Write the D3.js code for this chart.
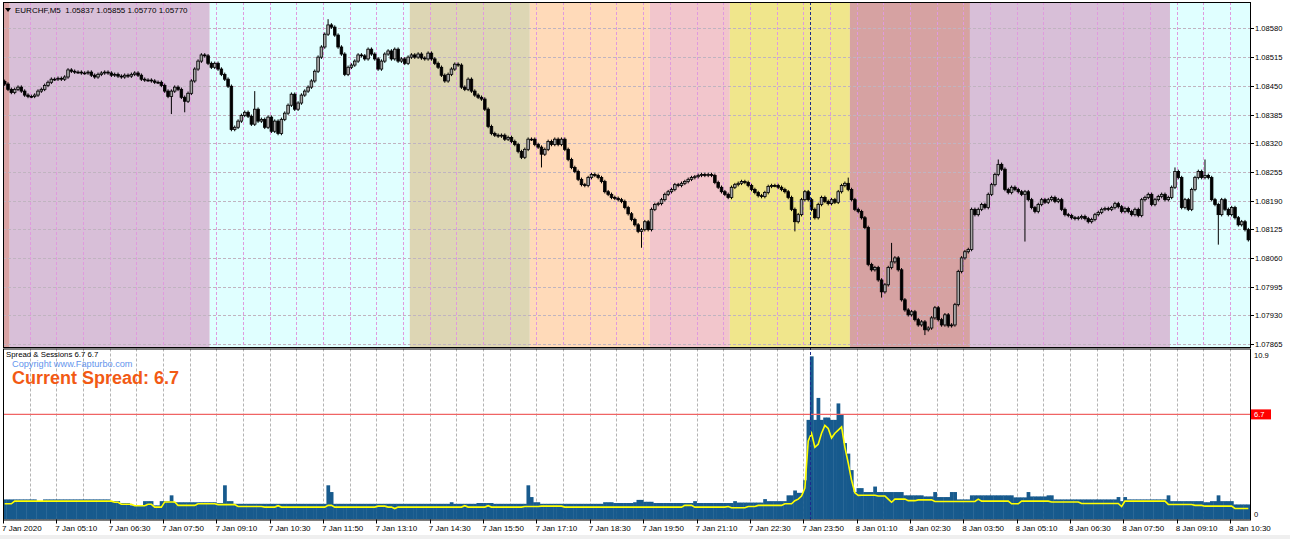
<!DOCTYPE html>
<html>
<head>
<meta charset="utf-8">
<script src="https://cdn.jsdelivr.net/npm/d3@7"></script>
<style>
  html, body { margin: 0; padding: 0; background: #fff; }
  svg { display: block; font-family: Tahoma, "Liberation Sans", Arial, sans-serif; }
</style>
</head>
<body>
<div id="chart"></div>
<script>
// Datos (precios en puntos sobre 1.07000)
const firstOpen = 1460;
const closePts = [
  1454,1442,1435,1442,1447,1438,1429,1426,1426,1429,1438,1442,1451,1458,1465,1465,1467,1465,1470,1486,
  1483,1481,1481,1479,1479,1481,1474,1470,1476,1479,1481,1479,1474,1476,1472,1470,1474,1472,1476,1479,
  1474,1465,1463,1463,1461,1458,1458,1451,1438,1426,1438,1447,1442,1424,1415,1433,1461,1488,1506,1520,
  1518,1501,
  1492,1501,1488,1476,1465,1449,1351,1356,1370,1383,1390,1381,1363,1397,1370,1374,1356,1379,1347,1370,
  1342,1374,1388,1406,1431,1397,1411,1429,1438,1447,1461,1483,1515,1538,1567,1588,1583,1565,1538,1522,
  1476,1492,1497,1506,1520,1518,1511,1533,1522,1511,1488,1506,1522,1529,1511,1533,1506,1511,1501,1515,
  1520,1515,1522,1513,1511,1524,1511,1501,1492,1474,1461,1476,1488,1499,1497,1447,1442,1465,1438,1429,
  1424,1420,1397,1358,1342,1338,1336,1338,1329,1333,1324,1317,1301,1288,1306,1329,
  1329,1317,1311,1295,1306,1324,1317,1329,1317,1329,1306,1283,1265,1256,1238,1226,1224,1242,1249,1247,
  1242,1233,1210,1204,1197,1195,1192,1188,1174,1160,1147,1135,1120,1124,1142,1124,
  1170,1181,1183,1192,1204,1210,1215,1226,1224,1229,1233,1238,1242,1244,1247,1249,1247,1249,1247,1231,
  1220,1210,1204,1197,
  1220,1226,1229,1233,1231,1224,1215,1208,1201,1199,1208,1222,1224,1224,1220,1215,1210,1197,1170,1142,
  1158,1192,1210,1192,1170,1151,1181,1197,1188,1183,1192,1186,1210,1224,1229,1215,
  1192,1170,1165,1151,1129,1045,1033,1038,1010,983,999,1038,1051,1060,1033,965,942,931,938,920,
  908,915,897,901,924,947,920,908,931,906,908,954,1029,1060,1074,1079,
  1170,1158,1170,1181,1174,1204,1226,1249,1272,1261,1215,1208,1220,1215,1210,1204,1210,1192,1174,1165,
  1181,1192,1186,1192,1197,1188,1192,1170,1158,1156,1151,1149,1151,1154,1149,1142,1147,1158,1163,1170,
  1172,1170,1174,1183,1176,1165,1172,1165,1158,1170,1156,1192,1197,1204,1181,1192,1199,1204,1192,1197,
  1220,1256,1242,1174,1192,1170,1215,1242,1256,1242,1247,1242,1192,1181,1158,1192,1170,1158,1174,1151,
  1135,1142,1124,1101
];

// [barra, máximo, mínimo] mechas largas
const longWicks = [
  [50, null, 1386], [54, null, 1390], [75, 1438, null], [97, 1601, null],
  [161, null, 1265], [191, null, 1083], [237, null, 1120], [253, 1242, null],
  [263, null, 970], [266, 1094, null], [276, null, 885], [298, 1283, null],
  [306, null, 1097], [351, 1265, null], [360, 1283, null], [364, null, 1090]
];

// Spread: [valor, nº de barras]
const spreadRuns = [
  [1.28,10],[1.17,2],[1.28,20],[1.17,3],[1.05,3],[0.9,4],[1.17,3],[0.9,2],[1.17,3],[1.54,1],
  [1.1,13],[1.05,2],[2.18,1],[1.17,2],[1.0,28],[2.18,1],[1.75,1],[1.0,35],[1.1,1],[1.0,7],
  [1.05,5],[1.0,10],[2.18,1],[1.43,1],[1.1,2],[1.0,19],[1.1,3],[1.05,6],[1.1,1],[1.25,2],
  [1.13,3],[1.05,12],[1.17,1],[1.05,11],[1.17,1],[1.08,8],[1.3,1],[1.17,6],[1.54,2],[1.85,1],
  [1.7,2],[2.5,1],[6.35,1],[10.4,1],[6.35,1],[7.75,1],[6.35,1],[6.5,2],[6.35,2],[7.4,1],
  [6.7,1],[4.87,1],[4.2,1],[3.15,1],[1.75,1],[2.0,2],[1.75,3],[2.1,1],[1.75,8],[1.54,6],
  [1.47,3],[1.75,1],[1.43,4],[1.75,2],[1.28,4],[1.54,13],[1.41,4],[1.75,1],[1.47,5],[1.54,2],
  [1.28,19],[1.43,1],[1.17,1],[1.43,1],[1.28,12],[1.54,1],[1.17,10],[1.1,2],[1.17,2],[1.54,1],
  [1.17,4],[0.96,5]
];

// Promedio del spread (línea amarilla): [valor, nº de barras]
const avgRuns = [
  [1.0,3],[1.17,30],[1.1,2],[0.97,4],[0.88,4],[0.97,2],[0.79,3],[1.12,4],[0.9,6],[1.0,6],
  [0.95,6],[0.83,8],[0.79,4],[0.88,1],[0.79,14],[0.9,2],[0.79,13],[0.85,3],[0.79,2],[0.7,1],
  [0.79,20],[0.88,1],[0.79,6],[0.88,1],[0.79,10],[0.83,5],[0.85,7],[0.79,36],[0.9,3],[0.79,10],
  [0.83,1],[0.75,5],[0.83,3],[0.9,8],[1.0,2],[1.0,1],[1.2,1],[1.3,1],[1.5,1],[2.0,1],
  [5.0,1],[5.5,1],[4.6,1],[4.8,1],[5.5,1],[6.0,1],[5.8,1],[5.2,1],[5.5,1],[5.7,1],
  [5.9,1],[4.6,1],[3.6,1],[2.5,1],[1.7,1],[1.54,1],[1.55,5],[1.5,3],[1.3,1],[1.1,1],
  [1.3,4],[1.2,3],[1.25,5],[1.15,13],[1.3,1],[1.17,9],[1.0,3],[1.17,9],[1.12,9],[1.02,12],
  [0.83,1],[1.17,13],[0.96,8],[0.9,3],[0.85,9],[0.7,5]
];

// Sesiones: [barra inicio, barra fin, color]
const sessions = [
  [0, 2, "#d9a3a3"], [2, 62, "#d8bfd8"], [62, 122, "#e0ffff"], [122, 158, "#ddd6b4"],
  [158, 194, "#ffdab9"], [194, 218, "#f2c6cc"], [218, 254, "#f0e68c"], [254, 290, "#d6a2a2"],
  [290, 350, "#d8bfd8"], [350, 374, "#e0ffff"]
];

const timeLabels = [
  "7 Jan 2020","7 Jan 05:10","7 Jan 06:30","7 Jan 07:50","7 Jan 09:10","7 Jan 10:30",
  "7 Jan 11:50","7 Jan 13:10","7 Jan 14:30","7 Jan 15:50","7 Jan 17:10","7 Jan 18:30",
  "7 Jan 19:50","7 Jan 21:10","7 Jan 22:30","7 Jan 23:50","8 Jan 01:10","8 Jan 02:30",
  "8 Jan 03:50","8 Jan 05:10","8 Jan 06:30","8 Jan 07:50","8 Jan 09:10","8 Jan 10:30"
];
const priceTicks = [1.07865,1.07930,1.07995,1.08060,1.08125,1.08190,1.08255,1.08320,1.08385,1.08450,1.08515,1.08580];
const spreadLabels = [10.9, 0];
const currentSpread = 6.7;
const cursorBar = 242;

// Constantes
const WIDTH = 1290, HEIGHT = 539;
const left = 3, right = 1250;
const top1 = 2, bot1 = 347;
const top2 = 348.5, bot2 = 519.5;
const N = closePts.length;
const wickPad = 4;

const svg = d3.select("#chart").append("svg")
  .attr("width", WIDTH).attr("height", HEIGHT);

svg.append("rect").attr("width", WIDTH).attr("height", HEIGHT).attr("fill", "#fff");

// Escalas
const x = d3.scaleBand().domain(d3.range(N)).range([left, right]).padding(0);
const step = x.step();
const xc = i => x(i) + step / 2;
const xs = i => left + i * step;
const y = d3.scaleLinear().domain([1.07858, 1.08640]).range([bot1, top1]);
const yS = d3.scaleLinear().domain([0, 10.9]).range([bot2, top2]);
const px = p => 1.07 + p / 100000;

const defs = svg.append("defs");
defs.append("clipPath").attr("id", "clip1").append("rect")
  .attr("x", left).attr("y", top1).attr("width", right - left).attr("height", bot1 - top1);
defs.append("clipPath").attr("id", "clip2").append("rect")
  .attr("x", left).attr("y", top2).attr("width", right - left).attr("height", bot2 - top2);

// Panel de precios
const g1 = svg.append("g").attr("clip-path", "url(#clip1)");

g1.selectAll("rect.session").data(sessions).join("rect")
  .attr("class", "session")
  .attr("x", d => xs(d[0])).attr("width", d => xs(d[1]) - xs(d[0]))
  .attr("y", top1).attr("height", bot1 - top1)
  .attr("fill", d => d[2]);

g1.selectAll("line.hgrid").data(priceTicks).join("line")
  .attr("class", "hgrid")
  .attr("x1", left).attr("x2", right)
  .attr("y1", d => Math.round(y(d)) + 0.5).attr("y2", d => Math.round(y(d)) + 0.5)
  .attr("stroke", "#c0b4c0").attr("stroke-dasharray", "3,2").attr("stroke-width", 1);

const vgrid = d3.range(8, N, 8);
g1.selectAll("line.vgrid").data(vgrid).join("line")
  .attr("class", "vgrid")
  .attr("x1", d => Math.round(xs(d)) + 0.5).attr("x2", d => Math.round(xs(d)) + 0.5)
  .attr("y1", top1).attr("y2", bot1)
  .attr("stroke", "#e09ade").attr("stroke-dasharray", "3,2").attr("stroke-width", 1);

// Velas
const wickMap = new Map(longWicks.map(d => [d[0], d]));
const candles = closePts.map((c, i) => {
  const o = i === 0 ? firstOpen : closePts[i - 1];
  let hi = Math.max(o, c) + wickPad, lo = Math.min(o, c) - wickPad;
  const w = wickMap.get(i);
  if (w) { if (w[1] != null) hi = w[1]; if (w[2] != null) lo = w[2]; }
  return { i, o, c, hi, lo };
});

const cg = g1.append("g");
cg.selectAll("line.wick").data(candles).join("line")
  .attr("class", "wick")
  .attr("x1", d => xc(d.i)).attr("x2", d => xc(d.i))
  .attr("y1", d => y(px(d.hi))).attr("y2", d => y(px(d.lo)))
  .attr("stroke", "#000").attr("stroke-width", 1);

cg.selectAll("rect.body").data(candles).join("rect")
  .attr("class", "body")
  .attr("x", d => xc(d.i) - 1.3).attr("width", 2.6)
  .attr("y", d => y(px(Math.max(d.o, d.c))))
  .attr("height", d => Math.max(0.8, Math.abs(y(px(d.o)) - y(px(d.c)))))
  .attr("fill", d => d.c > d.o ? "#a8a8a8" : "#000")
  .attr("stroke", "#000").attr("stroke-width", 0.8);

// Panel del spread
const spread = spreadRuns.flatMap(([v, n]) => Array(n).fill(v));
const avg = avgRuns.flatMap(([v, n]) => Array(n).fill(v));

const g2 = svg.append("g").attr("clip-path", "url(#clip2)");
g2.append("rect").attr("x", left).attr("y", top2).attr("width", right - left)
  .attr("height", bot2 - top2).attr("fill", "#fff");

g2.selectAll("line.vgrid2").data(vgrid).join("line")
  .attr("class", "vgrid2")
  .attr("x1", d => Math.round(xs(d)) + 0.5).attr("x2", d => Math.round(xs(d)) + 0.5)
  .attr("y1", top2).attr("y2", bot2)
  .attr("stroke", "#b4b4b4").attr("stroke-dasharray", "3,2").attr("stroke-width", 1);

g2.selectAll("rect.sp").data(spread).join("rect")
  .attr("class", "sp")
  .attr("x", (d, i) => x(i)).attr("width", step + 0.4)
  .attr("y", d => yS(d)).attr("height", d => yS(0) - yS(d))
  .attr("fill", "#175a8d");

g2.append("path").datum(avg)
  .attr("d", d3.line().x((d, i) => xc(i)).y(d => yS(d)))
  .attr("fill", "none").attr("stroke", "#ffff00").attr("stroke-width", 1.6);

g2.append("line")
  .attr("x1", left).attr("x2", right)
  .attr("y1", yS(currentSpread)).attr("y2", yS(currentSpread))
  .attr("stroke", "#f06464").attr("stroke-width", 1.3);

// Cursor vertical
svg.append("line")
  .attr("x1", Math.round(xs(cursorBar)) + 0.5).attr("x2", Math.round(xs(cursorBar)) + 0.5)
  .attr("y1", top1).attr("y2", bot2)
  .attr("stroke", "#1c2a8c").attr("stroke-dasharray", "3,2").attr("stroke-width", 1);

// Bordes
[[top1, bot1], [top2, bot2]].forEach(([t, b]) => {
  svg.append("rect")
    .attr("x", left + 0.5).attr("y", t + 0.5)
    .attr("width", right - left).attr("height", b - t)
    .attr("fill", "none").attr("stroke", "#000").attr("stroke-width", 1);
});

// Eje de precios
const ax = svg.append("g");
ax.selectAll("line").data(priceTicks).join("line")
  .attr("x1", right).attr("x2", right + 4)
  .attr("y1", d => Math.round(y(d)) + 0.5).attr("y2", d => Math.round(y(d)) + 0.5)
  .attr("stroke", "#000");
ax.selectAll("text").data(priceTicks).join("text")
  .attr("x", right + 5).attr("y", d => y(d) + 3)
  .attr("font-size", "7.6px").attr("fill", "#000")
  .text(d => d3.format(".5f")(d));

// Eje del spread
svg.selectAll("text.sl").data(spreadLabels).join("text")
  .attr("class", "sl")
  .attr("x", right + 4)
  .attr("y", d => d === 0 ? 517 : 358)
  .attr("font-size", "7.6px").attr("fill", "#000")
  .text(d => d);

svg.append("rect")
  .attr("x", right + 1).attr("y", yS(currentSpread) - 5)
  .attr("width", 20).attr("height", 10).attr("fill", "#ff0000");
svg.append("text")
  .attr("x", right + 4).attr("y", yS(currentSpread) + 3)
  .attr("font-size", "7.6px").attr("fill", "#fff")
  .text(currentSpread);

// Eje de tiempo
const tIdx = timeLabels.map((d, k) => k * 16);
svg.selectAll("line.tt").data(tIdx).join("line")
  .attr("class", "tt")
  .attr("x1", d => Math.round(xs(d)) + 0.5).attr("x2", d => Math.round(xs(d)) + 0.5)
  .attr("y1", bot2).attr("y2", bot2 + 4)
  .attr("stroke", "#000");
svg.selectAll("text.tl").data(timeLabels).join("text")
  .attr("class", "tl")
  .attr("x", (d, k) => xs(tIdx[k]) - 1).attr("y", 531)
  .attr("font-size", "8px").attr("fill", "#000")
  .text(d => d);

svg.append("rect").attr("x", 0).attr("y", 535).attr("width", WIDTH).attr("height", 4)
  .attr("fill", "#efefef");

// Textos
svg.append("path")
  .attr("d", "M5,8 L11,8 L8,12 Z").attr("fill", "#000");
svg.append("text")
  .attr("x", 15).attr("y", 13).attr("font-size", "8px").attr("fill", "#000")
  .attr("xml:space", "preserve")
  .text("EURCHF,M5  1.05837 1.05855 1.05770 1.05770");

svg.append("text")
  .attr("x", 6).attr("y", 357).attr("font-size", "7.8px").attr("fill", "#000")
  .text("Spread & Sessions 6.7 6.7");
svg.append("text")
  .attr("x", 12).attr("y", 367).attr("font-size", "9.2px").attr("fill", "#6495ed")
  .text("Copyright www.Fapturbo.com");
svg.append("text")
  .attr("x", 12).attr("y", 384).attr("font-size", "18px").attr("font-weight", "bold")
  .attr("font-family", "Arial, 'Liberation Sans', sans-serif")
  .attr("fill", "#f25a14")
  .text("Current Spread: " + currentSpread);
</script>
</body>
</html>
